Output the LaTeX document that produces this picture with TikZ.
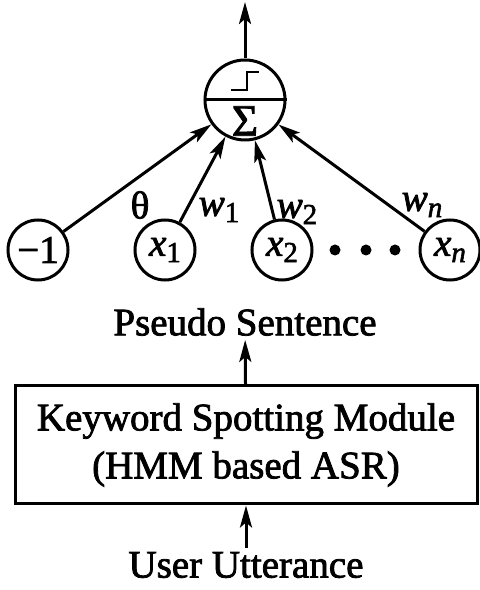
\documentclass[tikz,border=0pt]{standalone}
\usepackage{fontspec}
\setmainfont{Liberation Serif}[FakeBold=2]
\usetikzlibrary{arrows.meta, positioning}
\newcommand{\lowidx}[1]{\raisebox{-0.35ex}{\fontsize{29}{29}\selectfont #1}}
\tikzset{
  unit/.style={circle, draw, line width=3pt, minimum size=60pt, inner sep=0pt,
               font=\fontsize{39}{44}\selectfont},
  neuron/.style={circle, draw, line width=3pt, minimum size=80pt, inner sep=0pt},
  arrow/.style={-{Stealth[length=22pt, width=12pt, inset=5pt]}, line width=3pt},
  txt/.style={font=\fontsize{39}{46}\selectfont, inner sep=4pt},
  weight/.style={font=\fontsize{39}{44}\selectfont, inner sep=0pt},
  module/.style={rectangle, draw, line width=3pt, minimum width=462pt,
                 minimum height=118pt, align=center,
                 font=\fontsize{39}{48}\selectfont},
}

\begin{document}
\begin{tikzpicture}[x=1pt, y=1pt]
  \useasboundingbox (0,0) rectangle (480,590);
  % output unit
  \node[neuron] (sum) at (245,490) {};
  \draw[line width=3pt] (sum.west) -- (sum.east);
  \draw[line width=2.8pt] (231,500) -- (247,500) -- (247,518) -- (259,518);
  \node[txt, inner sep=0pt, font=\fontsize{45}{50}\selectfont] (sigma) at (245,469) {Σ};
  \coordinate (out) at (245,588);
  \draw[arrow] (sum) -- (out);
  % inputs
  \node[unit] (bias) at (38,340) {−1};
  \node[unit] (x1) at (165,340) {\textit{x}\lowidx{1}};
  \node[unit] (x2) at (282,340) {\textit{x}\lowidx{2}};
  \node[unit] (xn) at (450,340) {\textit{x}\lowidx{\textit{n}}};
  \foreach \px in {335,366,395}
    \fill (\px,340) circle (5.5pt);
  \draw[arrow] (bias) -- (sum);
  \draw[arrow] (x1) -- (sum);
  \draw[arrow] (x2) -- (sum);
  \draw[arrow] (xn) -- (sum);
  \node[weight] (theta) at (140,385) {θ};
  \node[weight] (w1) at (219,380) {\textit{w}\lowidx{1}};
  \node[weight] (w2) at (297,378) {\textit{w}\lowidx{2}};
  \node[weight] (wn) at (422,385) {\textit{w}\lowidx{\textit{n}}};
  % front end
  \node[txt] (pseudo) at (245,268) {Pseudo Sentence};
  \node[module] (kws) at (246,145) {Keyword Spotting Module\\(HMM based ASR)};
  \node[txt] (utter) at (246,25) {User Utterance};
  \draw[arrow] (kws) -- (pseudo);
  \draw[arrow] (utter) -- (kws);
\end{tikzpicture}
\end{document}
